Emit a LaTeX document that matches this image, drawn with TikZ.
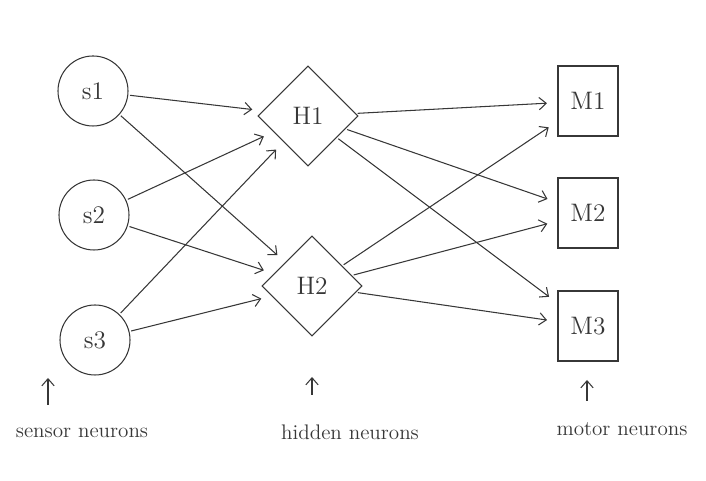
\documentclass[tikz,border=0pt]{standalone}
\usepackage{tikz}
\usetikzlibrary{shapes.geometric}
\usetikzlibrary{arrows.meta}
\definecolor{trait}{RGB}{55,55,55}

\begin{document}
\begin{tikzpicture}[>={Straight Barb[length=4pt,width=7pt]}, line width=0.6pt, draw=trait, trait,
  sensor/.style={circle, draw, minimum size=1.4cm, inner sep=0pt, font=\Large},
  hidden/.style={diamond, draw, minimum width=2cm, minimum height=2cm, inner sep=0pt, font=\Large},
  motor/.style={rectangle, draw, minimum width=1.2cm, minimum height=1.4cm, inner sep=0pt, font=\Large},
  liaison/.style={->, shorten >=6pt, shorten <=1pt},
  legende/.style={font=\large}]
\useasboundingbox (0,0) rectangle (14.12,9.62);

\node [sensor] (s1) at (1.86,7.80) {s1};
\node [sensor] (s2) at (1.88,5.32) {s2};
\node [sensor] (s3) at (1.90,2.82) {s3};

\node [hidden] (h1) at (6.16,7.30) {H1};
\node [hidden] (h2) at (6.24,3.90) {H2};

\node [motor] (m1) at (11.76,7.60) {M1};
\node [motor] (m2) at (11.76,5.36) {M2};
\node [motor] (m3) at (11.76,3.10) {M3};

\draw [liaison] (s1) -- (h1);
\draw [liaison] (s1) -- (h2);
\draw [liaison] (s2) -- (h1);
\draw [liaison] (s2) -- (h2);
\draw [liaison] (s3) -- (h1);
\draw [liaison] (s3) -- (h2);

\draw [liaison] (h1) -- (m1);
\draw [liaison] (h1) -- (m2);
\draw [liaison] (h1) -- (m3);
\draw [liaison] (h2) -- (m1);
\draw [liaison] (h2) -- (m2);
\draw [liaison] (h2) -- (m3);

\node [legende] (ls) at (1.64,0.96) {sensor neurons};
\node [legende] (lh) at (7.00,0.98) {hidden neurons};
\node [legende] (lm) at (12.44,1.04) {motor neurons};

\coordinate (ps) at (0.96,2.06);
\coordinate (ph) at (6.24,2.08);
\coordinate (pm) at (11.74,2.02);
\draw [->] (0.96,1.52) -- (ps);
\draw [->] (6.24,1.72) -- (ph);
\draw [->] (11.74,1.60) -- (pm);

\end{tikzpicture}
\end{document}
